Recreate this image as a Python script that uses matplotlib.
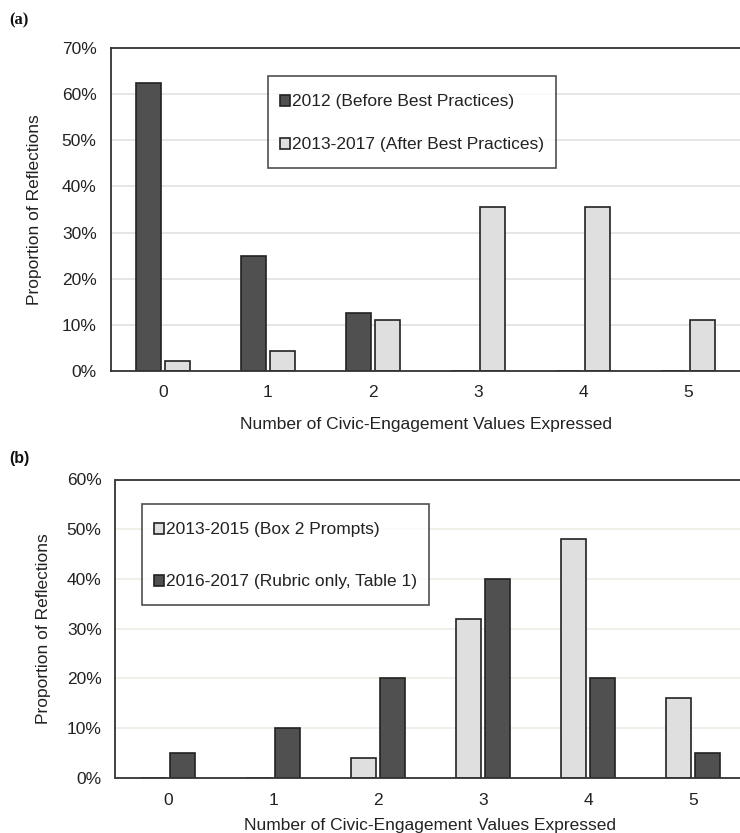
import matplotlib
matplotlib.use("Agg")
import matplotlib.pyplot as plt
import numpy as np
from matplotlib.ticker import PercentFormatter
from matplotlib.legend_handler import HandlerPatch, update_from_first_child
from matplotlib.patches import Rectangle
from matplotlib.container import BarContainer

plt.rcParams['font.family'] = ['Liberation Sans', 'DejaVu Sans']

# Number of civic-engagement values expressed
categories = [0, 1, 2, 3, 4, 5]

# Panel (a): before vs after best practices (% of reflections)
before_2012 = [62.5, 25.0, 12.5, 0, 0, 0]
after_2013_2017 = [2.2, 4.4, 11.1, 35.6, 35.6, 11.1]

# Panel (b): prompts vs rubric only (% of reflections)
prompts_2013_2015 = [0, 0, 4, 32, 48, 16]
rubric_2016_2017 = [5, 10, 20, 40, 20, 5]

DARK = '#505050'
LIGHT = '#dfdfdf'
EDGE = '#222222'
TXT = '#222222'
FS = 12.5

W, H = 740, 833
fig = plt.figure(figsize=(W / 100, H / 100), dpi=100)


def px_axes(left, top, right, bottom):
    return fig.add_axes([left / W, 1 - bottom / H, (right - left) / W, (bottom - top) / H])


def style(ax, ymax, grid_color, ylabelpad, xlabelpad, xtickpad):
    ax.set_xlim(-0.5, 5.5)
    ax.set_ylim(0, ymax)
    ax.set_xticks(categories)
    ax.set_xticklabels([str(c) for c in categories])
    ax.set_yticks(np.arange(0, ymax + 1, 10))
    ax.yaxis.set_major_formatter(PercentFormatter(decimals=0))
    ax.tick_params(length=0, labelsize=FS, colors=TXT)
    ax.tick_params(axis='y', pad=10)
    ax.tick_params(axis='x', pad=xtickpad)
    ax.yaxis.grid(True, color=grid_color, linewidth=1.3)
    ax.set_axisbelow(True)
    for s in ['left', 'top', 'bottom']:
        ax.spines[s].set_color('#333333')
        ax.spines[s].set_linewidth(1.3)
    ax.spines['right'].set_visible(False)
    ax.set_ylabel('Proportion of Reflections', fontsize=FS, color=TXT, labelpad=ylabelpad)
    ax.set_xlabel('Number of Civic-Engagement Values Expressed', fontsize=FS, color=TXT,
                  labelpad=xlabelpad)


def small_square(legend, orig_handle, xdescent, ydescent, width, height, fontsize):
    # a small swatch centred vertically in the legend row
    h = 0.62 * fontsize
    yc = -ydescent + height / 2
    return Rectangle((-xdescent, yc - h / 2), width, h)


def add_legend(ax, anchor, spacing, pad):
    leg = ax.legend(loc='upper left', bbox_to_anchor=anchor,
                    borderaxespad=0, fontsize=FS, frameon=True, fancybox=False,
                    handlelength=0.62, handleheight=1.9, handletextpad=0.12,
                    labelspacing=spacing, borderpad=pad,
                    handler_map={BarContainer: HandlerPatch(patch_func=small_square,
                                                            update_func=update_from_first_child)})
    leg.get_frame().set_edgecolor('#222222')
    leg.get_frame().set_linewidth(1.2)
    for t in leg.get_texts():
        t.set_color(TXT)
    return leg


x = np.arange(len(categories))
bw = 0.235
off = 0.138

# ---- Panel (a)
ax1 = px_axes(110.5, 48, 740.5, 371)
style(ax1, 70, '#e4e4e4', ylabelpad=14, xlabelpad=12.5, xtickpad=10)
ax1.bar(x - off, before_2012, bw, color=DARK, edgecolor=EDGE, linewidth=1.2,
        label='2012 (Before Best Practices)')
ax1.bar(x + off, after_2013_2017, bw, color=LIGHT, edgecolor=EDGE, linewidth=1.2,
        label='2013-2017 (After Best Practices)')
add_legend(ax1, ((268 - 110.5) / 630, (371 - 76) / 323), 1.0, 0.67)

# ---- Panel (b)
ax2 = px_axes(115.5, 479.5, 745.5, 777.7)
style(ax2, 60, '#efefe6', ylabelpad=11, xlabelpad=7, xtickpad=11)
ax2.bar(x - off, prompts_2013_2015, bw, color=LIGHT, edgecolor=EDGE, linewidth=1.2,
        label='2013-2015 (Box 2 Prompts)')
ax2.bar(x + off, rubric_2016_2017, bw, color=DARK, edgecolor=EDGE, linewidth=1.2,
        label='2016-2017 (Rubric only, Table 1)')
add_legend(ax2, ((142 - 115.5) / 630, (777.7 - 504) / 298.2), 1.5, 0.67)

# Panel letters
fig.text(9 / W, 1 - 20 / H, '(a)', fontsize=12, fontweight='bold',
         family=['Liberation Serif', 'DejaVu Serif'], va='center', ha='left', color='#111111')
fig.text(9 / W, 1 - 458 / H, '(b)', fontsize=11.5, fontweight='bold',
         va='center', ha='left', color='#111111')

fig.savefig('out.png', dpi=100, facecolor='white')
